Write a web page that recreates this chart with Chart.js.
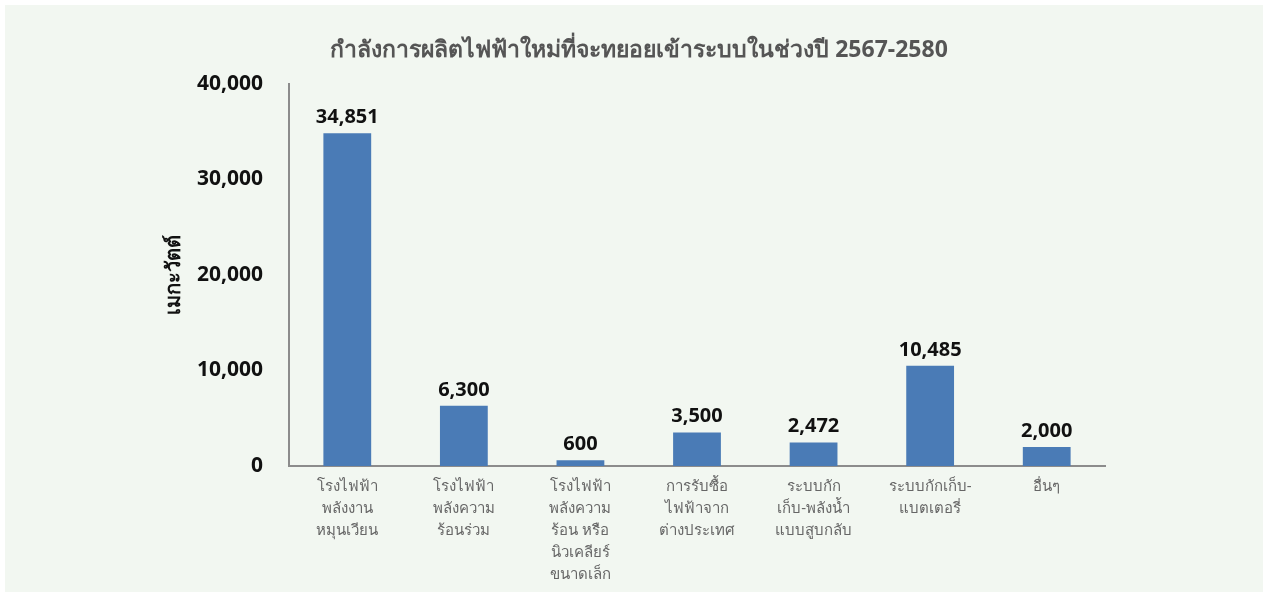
<!DOCTYPE html>
<html>
<head>
    <title>กำลังการผลิตไฟฟ้าใหม่</title>
    <style>
        body { margin: 0; background: #ffffff; }
        /* light panel with a thin white frame round it */
        .panel {
            position: absolute;
            left: 5px; top: 5px;
            width: 1258px; height: 587px;
            background: #f2f7f1;
        }
    </style>
</head>
<body>
    <div class="panel">
        <canvas id="capacity-chart"></canvas>
    </div>

    <script src="https://cdn.jsdelivr.net/npm/chart.js"></script>
    <script>
        // chart values
        const chartTitle = 'กำลังการผลิตไฟฟ้าใหม่ที่จะทยอยเข้าระบบในช่วงปี 2567-2580';
        const categories = [
            ['โรงไฟฟ้า', 'พลังงาน', 'หมุนเวียน'],
            ['โรงไฟฟ้า', 'พลังความ', 'ร้อนร่วม'],
            ['โรงไฟฟ้า', 'พลังความ', 'ร้อน หรือ', 'นิวเคลียร์', 'ขนาดเล็ก'],
            ['การรับซื้อ', 'ไฟฟ้าจาก', 'ต่างประเทศ'],
            ['ระบบกัก', 'เก็บ-พลังน้ำ', 'แบบสูบกลับ'],
            ['ระบบกักเก็บ-', 'แบตเตอรี่'],
            ['อื่นๆ']
        ];
        const megawatts = [34851, 6300, 600, 3500, 2472, 10485, 2000];
        const yTicks = [0, 10000, 20000, 30000, 40000];

        const fontFamily = '"Noto Sans", "DejaVu Sans", sans-serif';

        // title is drawn by hand so it can sit off-centre like the original
        const chartHeading = {
            id: 'chartHeading',
            afterDraw(chart) {
                const ctx = chart.ctx;
                ctx.save();
                ctx.font = 'bold 23px ' + fontFamily;
                ctx.fillStyle = '#555555';
                ctx.textAlign = 'center';
                ctx.textBaseline = 'middle';
                ctx.fillText(chartTitle, 634, 45);
                ctx.restore();
            }
        };

        // draws the number above each bar
        const valueLabels = {
            id: 'valueLabels',
            afterDatasetsDraw(chart) {
                const ctx = chart.ctx;
                const meta = chart.getDatasetMeta(0);
                ctx.save();
                ctx.font = 'bold 20px ' + fontFamily;
                ctx.fillStyle = '#111111';
                ctx.textAlign = 'center';
                ctx.textBaseline = 'middle';
                meta.data.forEach((bar, i) => {
                    ctx.fillText(megawatts[i].toLocaleString('en-US'), bar.x, bar.y - 16);
                });
                ctx.restore();
            }
        };

        const ctx = document.getElementById('capacity-chart').getContext('2d');
        new Chart(ctx, {
            type: 'bar',
            data: {
                labels: categories,
                datasets: [{
                    label: 'เมกะวัตต์',
                    data: megawatts,
                    backgroundColor: '#4a7bb6',
                    barPercentage: 0.82,
                    categoryPercentage: 0.5
                }]
            },
            options: {
                responsive: true,
                maintainAspectRatio: false,
                animation: false,
                layout: { padding: { left: 0, right: 158, top: 79, bottom: 0 } },
                plugins: {
                    legend: { display: false },
                    tooltip: { enabled: false },
                    title: { display: false }
                },
                scales: {
                    x: {
                        grid: { display: false, drawTicks: false },
                        border: { display: true, color: '#8c8c8c', width: 2 },
                        ticks: {
                            color: '#666666',
                            font: { family: fontFamily, size: 15, lineHeight: 1.47 },
                            padding: 10,
                            maxRotation: 0,
                            autoSkip: false
                        },
                        afterFit: (scale) => { scale.height = 126; }
                    },
                    y: {
                        min: 0,
                        max: 40000,
                        afterBuildTicks: (scale) => {
                            scale.ticks = yTicks.map(v => ({ value: v }));
                        },
                        grid: { display: false, drawTicks: false },
                        border: { display: true, color: '#8c8c8c', width: 2 },
                        ticks: {
                            color: '#111111',
                            font: { family: fontFamily, size: 21, weight: 'bold' },
                            padding: 26,
                            callback: (v) => v.toLocaleString('en-US')
                        },
                        title: {
                            display: true,
                            text: 'เมกะวัตต์',
                            color: '#111111',
                            font: { family: fontFamily, size: 20, weight: 'bold' },
                            padding: { top: 157, bottom: 0 }
                        },
                        afterFit: (scale) => { scale.width = 284; }
                    }
                }
            },
            plugins: [valueLabels, chartHeading]
        });
    </script>
</body>
</html>
